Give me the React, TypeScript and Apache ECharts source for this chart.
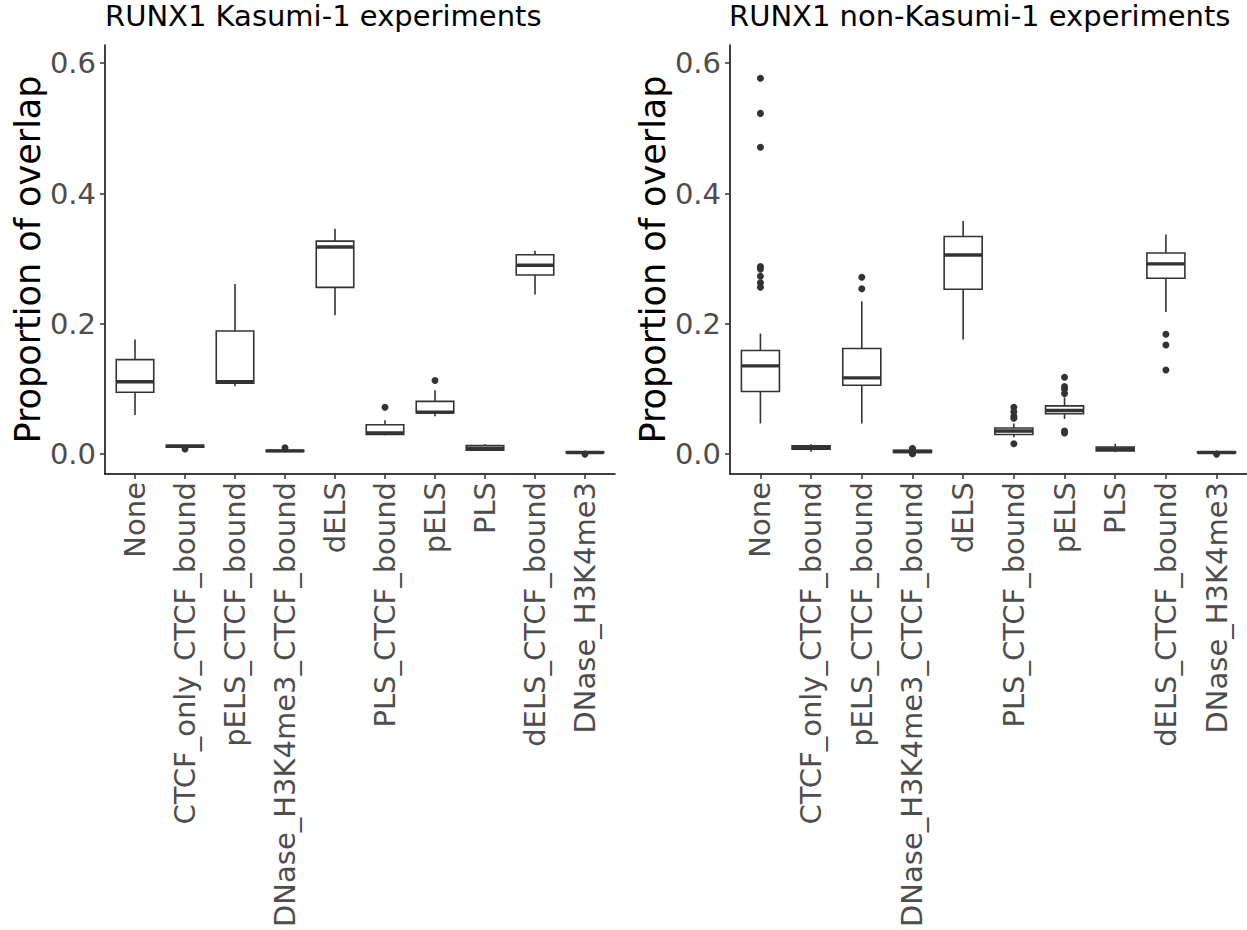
import React, { useEffect, useRef } from 'react';
import * as echarts from 'echarts';

const categories = [
  'None',
  'CTCF_only_CTCF_bound',
  'pELS_CTCF_bound',
  'DNase_H3K4me3_CTCF_bound',
  'dELS',
  'PLS_CTCF_bound',
  'pELS',
  'PLS',
  'dELS_CTCF_bound',
  'DNase_H3K4me3',
];

const yTicks = [0, 0.2, 0.4, 0.6];
const xTicks = [0, 1, 2, 3, 4, 5, 6, 7, 8, 9];

const panelTitles = ['RUNX1 Kasumi-1 experiments', 'RUNX1 non-Kasumi-1 experiments'];
const yTitle = 'Proportion of overlap';

// [lower whisker, Q1, median, Q3, upper whisker]
const kasumiBoxes = [
  [0.060, 0.095, 0.111, 0.145, 0.176],
  [0.0105, 0.0105, 0.012, 0.0135, 0.0135],
  [0.104, 0.109, 0.111, 0.189, 0.261],
  [0.003, 0.004, 0.005, 0.006, 0.007],
  [0.213, 0.256, 0.318, 0.327, 0.346],
  [0.029, 0.030, 0.0325, 0.045, 0.052],
  [0.058, 0.063, 0.0645, 0.081, 0.098],
  [0.0056, 0.006, 0.0086, 0.013, 0.015],
  [0.245, 0.275, 0.290, 0.306, 0.312],
  [0.0015, 0.002, 0.0025, 0.003, 0.0035],
];

const kasumiOutliers = [
  [],
  [0.008],
  [],
  [0.0096],
  [],
  [0.072],
  [0.113],
  [],
  [],
  [0.0],
];

const nonKasumiBoxes = [
  [0.047, 0.096, 0.1355, 0.159, 0.185],
  [0.0036, 0.0076, 0.010, 0.0127, 0.015],
  [0.047, 0.1056, 0.117, 0.162, 0.2345],
  [0.002, 0.0025, 0.004, 0.006, 0.007],
  [0.176, 0.253, 0.3056, 0.334, 0.358],
  [0.026, 0.030, 0.0355, 0.040, 0.047],
  [0.054, 0.062, 0.067, 0.074, 0.087],
  [0.003, 0.005, 0.008, 0.011, 0.016],
  [0.218, 0.270, 0.292, 0.3086, 0.337],
  [0.0015, 0.002, 0.0025, 0.003, 0.0035],
];

const nonKasumiOutliers = [
  [0.577, 0.523, 0.471, 0.288, 0.284, 0.273, 0.263, 0.256],
  [],
  [0.2716, 0.2538],
  [0.0086, 0.008, 0.001, 0.0005],
  [],
  [0.072, 0.065, 0.058, 0.055, 0.016],
  [0.118, 0.1036, 0.100, 0.093, 0.0355, 0.0325],
  [],
  [0.184, 0.1675, 0.129],
  [0.0],
];

const FONT = 'DejaVu Sans';
const STROKE = '#333333';

const renderBox = (params: any, api: any) => {
  const i = api.value(0);
  const lo = api.coord([i, api.value(1)]);
  const q1 = api.coord([i, api.value(2)]);
  const md = api.coord([i, api.value(3)]);
  const q3 = api.coord([i, api.value(4)]);
  const hi = api.coord([i, api.value(5)]);
  const w = api.size([0.75, 0])[0];
  const cx = q1[0];
  const lw = 1.6;
  return {
    type: 'group',
    children: [
      { type: 'line', shape: { x1: cx, y1: hi[1], x2: cx, y2: q3[1] }, style: { stroke: STROKE, lineWidth: lw } },
      { type: 'line', shape: { x1: cx, y1: q1[1], x2: cx, y2: lo[1] }, style: { stroke: STROKE, lineWidth: lw } },
      {
        type: 'rect',
        shape: { x: cx - w / 2, y: q3[1], width: w, height: q1[1] - q3[1] },
        style: { fill: '#ffffff', stroke: STROKE, lineWidth: lw },
      },
      { type: 'line', shape: { x1: cx - w / 2, y1: md[1], x2: cx + w / 2, y2: md[1] }, style: { stroke: STROKE, lineWidth: 3.4 } },
    ],
  };
};

const makeX = (gridIndex: number) => ({
  type: 'value',
  gridIndex,
  min: -0.6,
  max: 9.6,
  axisLine: { show: true, onZero: false, lineStyle: { color: '#000000', width: 1.5 } },
  axisTick: { show: true, customValues: xTicks, length: 5, lineStyle: { color: STROKE, width: 1.5 } },
  axisLabel: {
    show: true,
    customValues: xTicks,
    formatter: (v: number) => categories[Math.round(v)],
    rotate: 90,
    fontSize: 29,
    color: '#4D4D4D',
    fontFamily: FONT,
    margin: 8,
  },
  splitLine: { show: false },
});

const makeY = (gridIndex: number) => ({
  type: 'value',
  gridIndex,
  min: -0.0305,
  max: 0.628,
  name: yTitle,
  nameLocation: 'middle',
  nameRotate: 90,
  nameGap: 52,
  nameTextStyle: { fontSize: 35, color: '#000000', fontFamily: FONT },
  axisLine: { show: true, onZero: false, lineStyle: { color: '#000000', width: 1.5 } },
  axisTick: { show: true, customValues: yTicks, length: 5, lineStyle: { color: STROKE, width: 1.5 } },
  axisLabel: {
    show: true,
    customValues: yTicks,
    formatter: (v: number) => v.toFixed(1),
    fontSize: 29,
    color: '#4D4D4D',
    fontFamily: FONT,
    margin: 9,
  },
  splitLine: { show: false },
});

const boxData = (boxes: number[][]) => boxes.map((b, i) => [i, ...b]);
const outlierData = (outs: number[][]) => {
  const res: number[][] = [];
  outs.forEach((vals, i) => vals.forEach((v) => res.push([i, v])));
  return res;
};

export default function App() {
  const ref = useRef<HTMLDivElement>(null);
  useEffect(() => {
    document.body.style.margin = '0';
    if (!ref.current) return;
    const chart = echarts.init(ref.current, undefined, { renderer: 'svg' });
    chart.setOption({
      animation: false,
      backgroundColor: '#ffffff',
      textStyle: { fontFamily: FONT },
      title: panelTitles.map((t, i) => ({
        text: t,
        left: i === 0 ? 105 : 729,
        top: 1,
        padding: 0,
        textStyle: { fontSize: 29, fontWeight: 'normal', color: '#000000', fontFamily: FONT },
      })),
      grid: [
        { left: 105, top: 45, width: 510, height: 432, containLabel: false },
        { left: 730, top: 45, width: 517, height: 432, containLabel: false },
      ],
      xAxis: [makeX(0), makeX(1)],
      yAxis: [makeY(0), makeY(1)],
      series: [
        {
          type: 'scatter',
          xAxisIndex: 0,
          yAxisIndex: 0,
          data: outlierData(kasumiOutliers),
          symbolSize: 7,
          itemStyle: { color: STROKE, opacity: 1 },
          z: 1,
        },
        {
          type: 'custom',
          xAxisIndex: 0,
          yAxisIndex: 0,
          renderItem: renderBox,
          encode: { x: 0, y: [1, 2, 3, 4, 5] },
          data: boxData(kasumiBoxes),
          clip: false,
          z: 2,
        },
        {
          type: 'scatter',
          xAxisIndex: 1,
          yAxisIndex: 1,
          data: outlierData(nonKasumiOutliers),
          symbolSize: 7,
          itemStyle: { color: STROKE, opacity: 1 },
          z: 1,
        },
        {
          type: 'custom',
          xAxisIndex: 1,
          yAxisIndex: 1,
          renderItem: renderBox,
          encode: { x: 0, y: [1, 2, 3, 4, 5] },
          data: boxData(nonKasumiBoxes),
          clip: false,
          z: 2,
        },
      ],
    });
    return () => chart.dispose();
  }, []);
  return <div ref={ref} style={{ width: 1247, height: 930 }} />;
}
